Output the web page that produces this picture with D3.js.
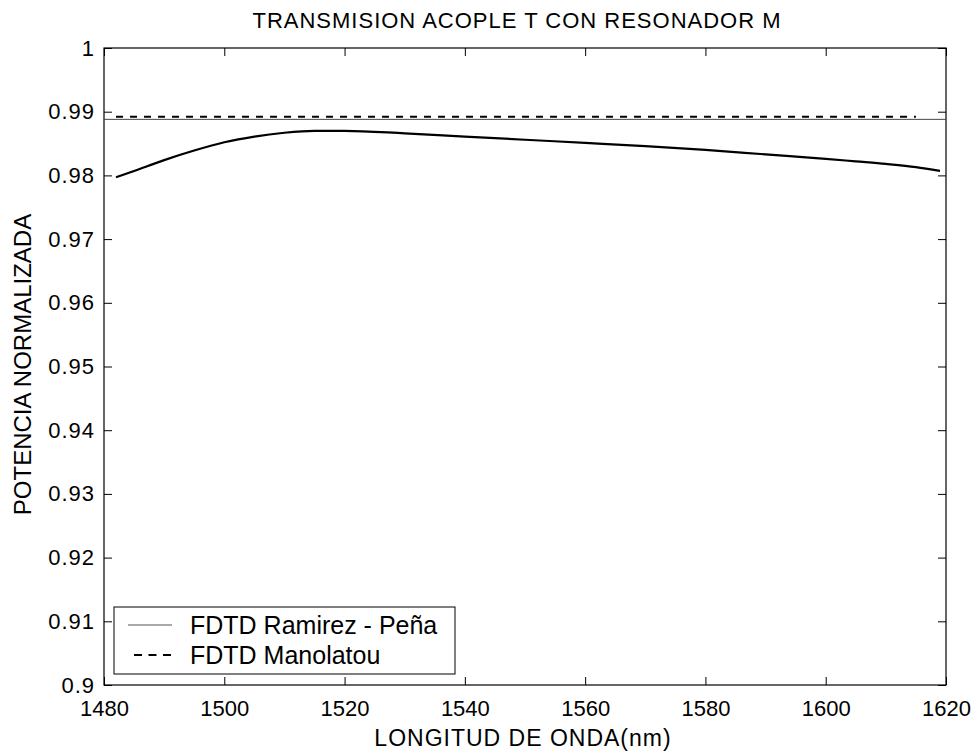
<!DOCTYPE html>
<html>
<head>
<meta charset="utf-8">
<script src="https://cdn.jsdelivr.net/npm/d3@7"></script>
<style>
  html, body { margin: 0; padding: 0; background: #fff; }
  svg { display: block; font-family: Arial, "Liberation Sans", Helvetica, sans-serif; }
</style>
</head>
<body>
<svg id="chart" width="977" height="754"></svg>
<script>
// Transmission of the T coupler with resonator M
const titleText = "TRANSMISION ACOPLE T CON RESONADOR M";
const xLabelText = "LONGITUD DE ONDA(nm)";
const yLabelText = "POTENCIA NORMALIZADA";

const xTicks = [1480, 1500, 1520, 1540, 1560, 1580, 1600, 1620];
const yTicks = [0.9, 0.91, 0.92, 0.93, 0.94, 0.95, 0.96, 0.97, 0.98, 0.99, 1];

// Simulated transmission curve
const wavelength = [1482, 1485, 1490, 1495, 1500, 1505, 1510, 1515, 1520, 1530, 1540, 1550, 1560, 1570, 1580, 1590, 1600, 1605, 1610, 1615, 1619];
const potencia = [0.9797, 0.9807, 0.9824, 0.9839, 0.9852, 0.9861, 0.9867, 0.9870, 0.9870, 0.9866, 0.9861, 0.9856, 0.9851, 0.9846, 0.9840, 0.9833, 0.9826, 0.9822, 0.9818, 0.9813, 0.9807];

// FDTD Ramirez - Peña reference level
const ramirezX = [1480, 1620];
const ramirezY = [0.9888, 0.9888];

// FDTD Manolatou reference level
const manolatouX = [1482, 1615];
const manolatouY = [0.9892, 0.9892];

const legendLabels = ["FDTD Ramirez - Peña", "FDTD Manolatou"];

const svg = d3.select("#chart");
const plotL = 104, plotR = 946, plotT = 48, plotB = 685;

const x = d3.scaleLinear().domain([1480, 1620]).range([plotL, plotR]);
const y = d3.scaleLinear().domain([0.9, 1]).range([plotB, plotT]);

const fmtY = d => (d === 1 ? "1" : (d === 0.9 ? "0.9" : d3.format(".2f")(d)));

// Axes with inward ticks on all four sides
const tickLen = 8;
const gx = svg.append("g").attr("transform", `translate(0,${plotB})`)
  .call(d3.axisBottom(x).tickValues(xTicks).tickSize(-tickLen).tickPadding(15).tickFormat(d3.format("d")))
  .call(g => g.select(".domain").remove());
svg.append("g").attr("transform", `translate(0,${plotT})`)
  .call(d3.axisTop(x).tickValues(xTicks).tickSize(-tickLen).tickFormat(""))
  .call(g => g.select(".domain").remove());
const gy = svg.append("g").attr("transform", `translate(${plotL},0)`)
  .call(d3.axisLeft(y).tickValues(yTicks).tickSize(-tickLen).tickPadding(9).tickFormat(fmtY))
  .call(g => g.select(".domain").remove());
svg.append("g").attr("transform", `translate(${plotR},0)`)
  .call(d3.axisRight(y).tickValues(yTicks).tickSize(-tickLen).tickFormat(""))
  .call(g => g.select(".domain").remove());

svg.selectAll(".tick line").attr("stroke", "#000").attr("stroke-width", 1);
gx.selectAll(".tick text").attr("fill", "#000").style("font-size", "22px");
gy.selectAll(".tick text").attr("fill", "#000").style("font-size", "22px").style("letter-spacing", "1px");

// Plot frame
svg.append("rect")
  .attr("x", plotL).attr("y", plotT)
  .attr("width", plotR - plotL).attr("height", plotB - plotT)
  .attr("fill", "none").attr("stroke", "#000").attr("stroke-width", 1.2);

const line = d3.line().x(d => x(d[0])).y(d => y(d[1]));

// Reference levels
svg.append("path")
  .datum(d3.zip(ramirezX, ramirezY))
  .attr("d", line)
  .attr("fill", "none").attr("stroke", "#444").attr("stroke-width", 1);

svg.append("path")
  .datum(d3.zip(manolatouX, manolatouY))
  .attr("d", line)
  .attr("fill", "none").attr("stroke", "#000").attr("stroke-width", 2)
  .attr("stroke-dasharray", "7,7");

// Transmission curve
svg.append("path")
  .datum(d3.zip(wavelength, potencia))
  .attr("d", d3.line().x(d => x(d[0])).y(d => y(d[1])).curve(d3.curveMonotoneX))
  .attr("fill", "none").attr("stroke", "#000").attr("stroke-width", 2.2);

// Titles
svg.append("text")
  .attr("x", 517).attr("y", 28)
  .attr("text-anchor", "middle").style("font-size", "22px").style("letter-spacing", "1px")
  .text(titleText);

svg.append("text")
  .attr("x", 523).attr("y", 746)
  .attr("text-anchor", "middle").style("font-size", "23px").style("letter-spacing", "1px")
  .text(xLabelText);

svg.append("text")
  .attr("transform", `translate(31,364.5) rotate(-90)`)
  .attr("text-anchor", "middle").style("font-size", "24px")
  .text(yLabelText);

// Legend
const lg = svg.append("g");
lg.append("rect")
  .attr("x", 114).attr("y", 607).attr("width", 341).attr("height", 67)
  .attr("fill", "#fff").attr("stroke", "#000").attr("stroke-width", 1);
const rows = [
  { label: legendLabels[0], stroke: "#555", width: 1, dash: null, x1: 128, x2: 172 },
  { label: legendLabels[1], stroke: "#000", width: 2, dash: "8,6.5", x1: 134, x2: 171 }
];
rows.forEach((r, i) => {
  const cy = 625 + i * 30;
  lg.append("line")
    .attr("x1", r.x1).attr("x2", r.x2).attr("y1", cy).attr("y2", cy)
    .attr("stroke", r.stroke).attr("stroke-width", r.width)
    .attr("stroke-dasharray", r.dash);
  lg.append("text")
    .attr("x", 190).attr("y", cy + 8.5)
    .style("font-size", "25px")
    .text(r.label);
});
</script>
</body>
</html>
